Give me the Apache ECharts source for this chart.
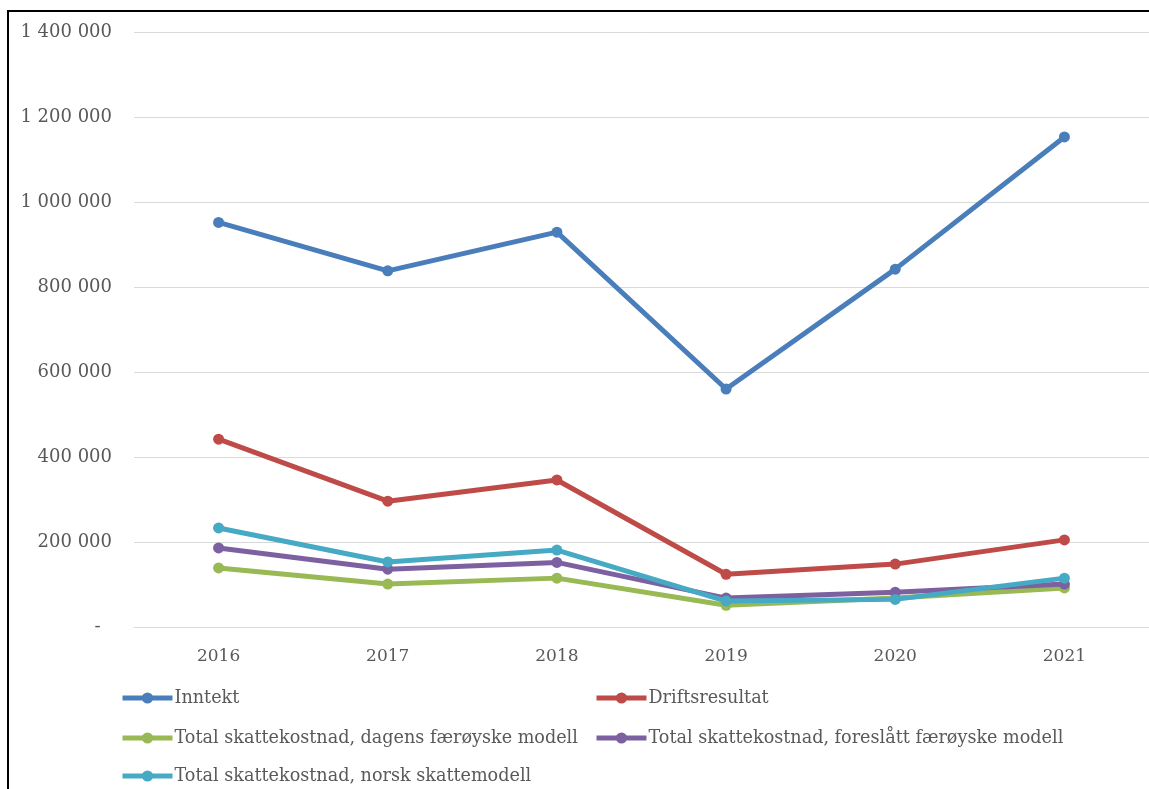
<!DOCTYPE html>
<html>
<head>
<meta charset="utf-8">
<script src="https://cdn.jsdelivr.net/npm/echarts@6/dist/echarts.min.js"></script>
<style>
html,body{margin:0;padding:0;background:#fff;}
#chart{width:1149px;height:789px;}
</style>
</head>
<body>
<div id="chart"></div>
<script>
const categories = ['2016','2017','2018','2019','2020','2021'];
const seriesNames = [
  'Inntekt',
  'Driftsresultat',
  'Total skattekostnad, dagens færøyske modell',
  'Total skattekostnad, foreslått færøyske modell',
  'Total skattekostnad, norsk skattemodell'
];
const inntekt = [952000, 838000, 929000, 560000, 842000, 1153000];
const driftsresultat = [442000, 296000, 346000, 124000, 148000, 205000];
const dagensModell = [139000, 101000, 115000, 51000, 68000, 92000];
const foreslattModell = [186000, 136000, 152000, 68000, 82000, 101000];
const norskModell = [233000, 153000, 181000, 61000, 65000, 115000];
const yTicks = [0, 200000, 400000, 600000, 800000, 1000000, 1200000, 1400000];
const colors = ['#4A7EBB', '#BE4B48', '#98B954', '#7D60A0', '#46AAC5'];

const FONT = 'DejaVu Serif';
const chart = echarts.init(document.getElementById('chart'), null, {renderer:'canvas'});
const dataSets = [inntekt, driftsresultat, dagensModell, foreslattModell, norskModell];

function fmt(v){
  if (v === 0) return '-  ';
  return String(v).replace(/\B(?=(\d{3})+(?!\d))/g, ' ');
}

// legend placement: [left, centerY]
const legendPos = [[120, 697], [594, 697], [120, 737], [594, 737], [120, 775]];

chart.setOption({
  backgroundColor: '#ffffff',
  animation: false,
  color: colors,
  textStyle: {fontFamily: FONT},
  grid: {left: 134, right: -3, top: 32, bottom: 789 - 627, containLabel: false},
  xAxis: {
    type: 'category',
    data: categories,
    boundaryGap: true,
    axisLine: {show: true, lineStyle: {color: '#D9D9D9', width: 1}},
    axisTick: {show: false},
    axisLabel: {color: '#595959', fontSize: 17, fontFamily: FONT, margin: 21}
  },
  yAxis: {
    type: 'value',
    min: yTicks[0],
    max: yTicks[yTicks.length - 1],
    interval: yTicks[1] - yTicks[0],
    axisLine: {show: false},
    axisTick: {show: false},
    splitLine: {lineStyle: {color: '#D9D9D9', width: 1}},
    axisLabel: {color: '#595959', fontSize: 18, fontFamily: FONT, margin: 22, formatter: fmt}
  },
  legend: seriesNames.map((n, i) => ({
    left: legendPos[i][0], top: legendPos[i][1] - 8,
    padding: 0,
    itemWidth: 50, itemHeight: 14, itemGap: 0,
    data: [n],
    lineStyle: {width: 5},
    textStyle: {color: '#595959', fontSize: 17.6, fontFamily: FONT, padding: [0,0,0,-3]}
  })),
  graphic: [
    {type: 'rect', shape: {x: 8, y: 11, width: 1160, height: 800}, style: {fill: 'none', stroke: '#000', lineWidth: 2}, silent: true}
  ],
  series: seriesNames.map((n, i) => ({
    name: n,
    type: 'line',
    data: dataSets[i],
    symbol: 'circle',
    symbolSize: 11,
    lineStyle: {width: 5, color: colors[i]},
    itemStyle: {color: colors[i]},
    z: 2 + i
  }))
});
</script>
</body>
</html>
